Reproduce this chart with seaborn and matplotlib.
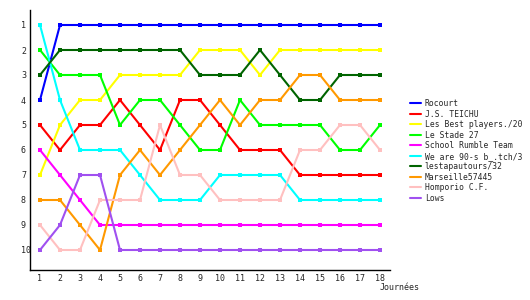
import matplotlib
matplotlib.use("Agg")
import matplotlib.pyplot as plt
import seaborn as sns
import pandas as pd
from matplotlib.lines import Line2D

journees = list(range(1, 19))
teams = ["Rocourt", "J.S. TEICHU", "Les Best players./20", "Le Stade 27",
         "School Rumble Team", "We are 90-s b_.tch/3", "lestapautours/32",
         "Marseille57445", "Homporio C.F.", "Lows"]
rocourt   = [4, 1, 1, 1, 1, 1, 1, 1, 1, 1, 1, 1, 1, 1, 1, 1, 1, 1]
teichu    = [5, 6, 5, 5, 4, 5, 6, 4, 4, 5, 6, 6, 6, 7, 7, 7, 7, 7]
best      = [7, 5, 4, 4, 3, 3, 3, 3, 2, 2, 2, 3, 2, 2, 2, 2, 2, 2]
stade     = [2, 3, 3, 3, 5, 4, 4, 5, 6, 6, 4, 5, 5, 5, 5, 6, 6, 5]
rumble    = [6, 7, 8, 9, 9, 9, 9, 9, 9, 9, 9, 9, 9, 9, 9, 9, 9, 9]
nineties  = [1, 4, 6, 6, 6, 7, 8, 8, 8, 7, 7, 7, 7, 8, 8, 8, 8, 8]
tapa      = [3, 2, 2, 2, 2, 2, 2, 2, 3, 3, 3, 2, 3, 4, 4, 3, 3, 3]
marseille = [8, 8, 9, 10, 7, 6, 7, 6, 5, 4, 5, 4, 4, 3, 3, 4, 4, 4]
homporio  = [9, 10, 10, 8, 8, 8, 5, 7, 7, 8, 8, 8, 8, 6, 6, 5, 5, 6]
lows      = [10, 9, 7, 7, 10, 10, 10, 10, 10, 10, 10, 10, 10, 10, 10, 10, 10, 10]
series = [rocourt, teichu, best, stade, rumble, nineties, tapa, marseille, homporio, lows]
colors = ["#0000FF", "#FF0000", "#FFFF00", "#00FF00", "#FF00FF", "#00FFFF",
          "#006400", "#FF9900", "#FFC0C0", "#A050F0"]
ytick_labels = [str(i) for i in range(1, 11)]

rows = []
for t, vals in zip(teams, series):
    for j, v in zip(journees, vals):
        rows.append({"team": t, "journee": j, "rank": v})
df = pd.DataFrame(rows)

sns.set_style("white")
plt.rcParams['font.family'] = ['DejaVu Sans Mono']

fig = plt.figure(figsize=(5.3, 3.0), dpi=100)
ax = fig.add_axes([30/530, 30/300, 360/530, 260/300])

sns.lineplot(data=df, x="journee", y="rank", hue="team", hue_order=teams,
             palette=dict(zip(teams, colors)), marker="s", markersize=3,
             markeredgewidth=0, linewidth=1.5, sort=False, legend=False, ax=ax)

ax.set_xlim(0.5, 18.5)
ax.set_ylim(10.8, 0.4)
ax.set_xticks(journees)
ax.set_xticklabels([str(j) for j in journees], fontsize=6)
ax.set_yticks(range(1, 11))
ax.set_yticklabels(ytick_labels, fontsize=6)
ax.tick_params(axis="both", length=0)
ax.tick_params(axis="x", pad=3)
ax.tick_params(axis="y", pad=6.5)
for lab in ax.get_yticklabels():
    lab.set_ha("left")
ax.set_xlabel("")
ax.set_ylabel("")
for s in ["top", "right"]:
    ax.spines[s].set_visible(False)
for s in ["left", "bottom"]:
    ax.spines[s].set_color("black")
    ax.spines[s].set_linewidth(1)
ax.grid(False)

handles = [Line2D([0], [0], color=c, lw=1.5) for c in colors]
fig.legend(handles, teams, loc="upper left", bbox_to_anchor=(410/530, 1 - 99/300),
           frameon=False, fontsize=5.8, handlelength=1.35, handletextpad=0.5,
           labelspacing=0.19, borderpad=0, borderaxespad=0)

fig.text(380/530, 1 - 288/300, "Journées", fontsize=6, ha="left", va="center")

fig.savefig("out.png", dpi=100)
